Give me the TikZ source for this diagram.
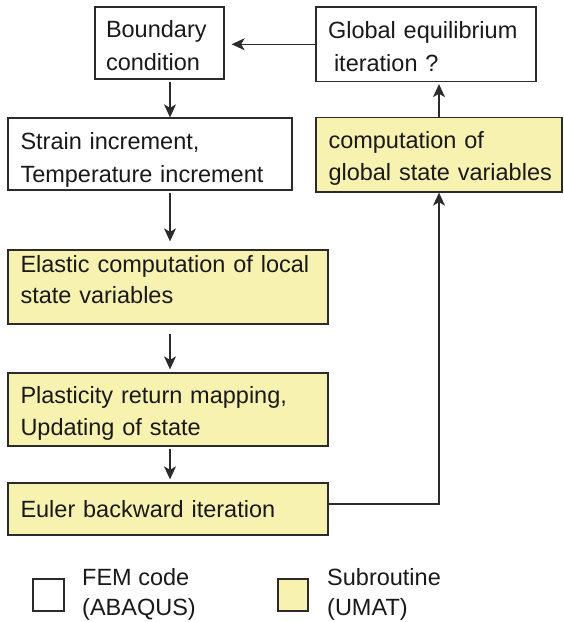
\documentclass[tikz,border=0pt]{standalone}
\usepackage{fontspec}
\setmainfont{Liberation Sans}
\usetikzlibrary{arrows.meta}
\definecolor{sub}{RGB}{248,242,176}
\definecolor{ln}{RGB}{45,42,43}
\newcommand{\tb}[5]{\rule{0pt}{#1pt}\mbox{#4}\\\mbox{#5}\rule[-#2pt]{0pt}{#2pt}}
\begin{document}
\begin{tikzpicture}[x=1pt,y=-1pt,
  box/.style={draw=ln, line width=1.3pt, align=left, inner ysep=0pt, anchor=center, text=black!90},
  sbox/.style={box, fill=sub},
  arr/.style={draw=ln, line width=1.2pt, -{Stealth[length=13pt,width=12pt,inset=3.5pt]}},
  legtext/.style={anchor=north west, inner sep=0pt, align=left, font=\fontsize{23.5}{30}\selectfont, text=black!90}]
\useasboundingbox (0,0) rectangle (564,622);
% FEM code boxes
\node[box, font=\fontsize{23.5}{33}\selectfont, minimum width=129pt, minimum height=72pt, text width=107pt, inner xsep=11pt] (bc) at (159.5,43)
  {\tb{30}{9}{33}{Boundary}{condition}};
\node[box, font=\fontsize{23.5}{33}\selectfont, minimum width=284pt, minimum height=72pt, text width=259pt, inner xsep=12.5pt] (si) at (150,154)
  {\tb{31}{8}{33}{Strain increment,}{Temperature increment}};
\node[box, font=\fontsize{23.5}{33}\selectfont, minimum width=220pt, minimum height=74.5pt, text width=196pt, inner xsep=12pt] (ge) at (426,44.25)
  {\tb{31}{10.5}{33}{Global equilibrium}{\hspace{6pt}iteration ?}};
% subroutine boxes
\node[sbox, font=\fontsize{23.5}{32}\selectfont, minimum width=246pt, minimum height=74.5pt, text width=221pt, inner xsep=12.5pt] (cg) at (439,154.75)
  {\tb{30.5}{12}{32}{computation of}{global state variables}};
\node[sbox, font=\fontsize{23.5}{31}\selectfont, minimum width=320pt, minimum height=74pt, text width=295pt, inner xsep=12.5pt] (el) at (168,287)
  {\tb{22}{21}{31}{Elastic computation of local}{state variables}};
\node[sbox, font=\fontsize{23.5}{32}\selectfont, minimum width=320pt, minimum height=73pt, text width=295pt, inner xsep=12.5pt] (pl) at (168,409.5)
  {\tb{30}{11}{32}{Plasticity return mapping,}{Updating of state}};
\node[sbox, font=\fontsize{23.5}{32}\selectfont, minimum width=320pt, minimum height=52pt, text width=295pt, inner xsep=12.5pt] (eu) at (168,509)
  {\rule{0pt}{34pt}\mbox{Euler backward iteration}\rule[-18pt]{0pt}{18pt}};
% connectors
\coordinate (ax) at (170,0);
\draw[arr, shorten <=2pt] (bc.south -| ax) -- (si.north -| ax);
\draw[arr, shorten <=2pt, shorten >=8pt] (si.south -| ax) -- (el.north -| ax);
\draw[arr, shorten <=9pt, shorten >=3pt] (el.south -| ax) -- (pl.north -| ax);
\draw[arr, shorten <=2pt, shorten >=3pt] (pl.south -| ax) -- (eu.north -| ax);
\draw[arr] ([yshift=5pt]eu.east) -| (cg.south);
\draw[arr, shorten >=2pt] (cg.north) -- (cg.north |- ge.south);
\draw[arr, shorten >=7pt] (ge.west) -- (ge.west -| bc.east);
% legend
\node[draw=ln, line width=1.3pt, fill=white, minimum width=31pt, minimum height=32pt, inner sep=0pt] (lw) at (48.5,595) {};
\node[draw=ln, line width=1.3pt, fill=sub, minimum width=30pt, minimum height=32pt, inner sep=0pt] (ly) at (293,595) {};
\node[legtext] (lwt) at (82,565) {\rule{0pt}{20pt}FEM code\\(ABAQUS)};
\node[legtext] (lyt) at (327,565) {\rule{0pt}{20pt}Subroutine\\(UMAT)};
\end{tikzpicture}
\end{document}
